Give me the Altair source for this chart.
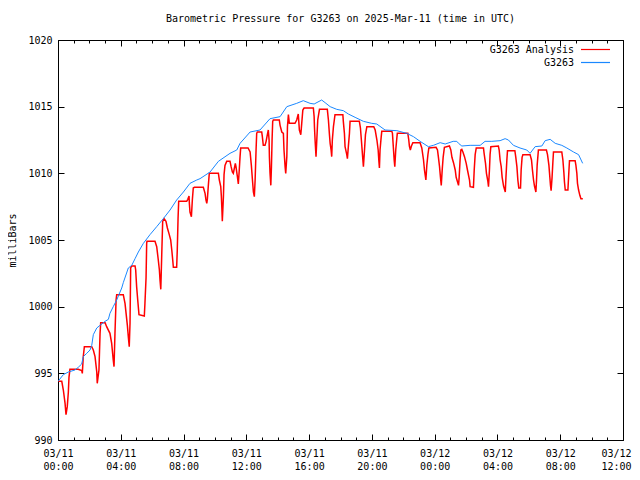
import altair as alt
import pandas as pd

# ---- data (hours after 2025-03-11 00:00 UTC, millibars) ----
red_hours = [0.02, 0.24, 0.34, 0.45, 0.51, 0.59, 0.66, 0.70, 0.76, 1.29, 1.51, 1.55, 1.61, 1.68, 2.15, 2.25, 2.36, 2.47, 2.50, 2.61,
             2.68, 2.72, 3.00, 3.10, 3.31, 3.42, 3.52, 3.57, 3.63, 3.70, 3.74, 4.16, 4.27, 4.42, 4.48, 4.54, 4.59, 4.63, 4.70, 4.91,
             4.95, 5.01, 5.08, 5.16, 5.50, 5.54, 5.61, 5.65, 5.67, 6.18, 6.29, 6.39, 6.46, 6.50, 6.55, 6.61, 6.67, 6.76, 6.88, 6.97,
             7.09, 7.18, 7.25, 7.31, 7.35, 7.56, 7.60, 7.65, 7.69, 8.20, 8.27, 8.35, 8.37, 8.41, 8.50, 8.56, 8.62, 8.69, 9.26, 9.37,
             9.43, 9.48, 9.52, 9.58, 9.64, 10.22, 10.28, 10.37, 10.41, 10.45, 10.47, 10.54, 10.58, 10.64, 10.75, 10.96, 11.03, 11.11, 11.17, 11.24,
             11.30, 11.34, 11.43, 11.49, 11.55, 11.60, 11.64, 12.11, 12.24, 12.32, 12.39, 12.45, 12.51, 12.56, 12.62, 12.66, 12.70, 12.98, 13.02, 13.08,
             13.19, 13.26, 13.34, 13.40, 13.45, 13.47, 13.51, 13.56, 13.60, 13.64, 13.68, 13.72, 14.10, 14.15, 14.26, 14.36, 14.40, 14.47, 14.51, 14.58,
             14.62, 14.68, 14.74, 15.10, 15.21, 15.31, 15.38, 15.47, 15.53, 15.60, 15.68, 16.27, 16.32, 16.34, 16.38, 16.44, 16.49, 16.55, 16.66, 17.16,
             17.23, 17.29, 17.34, 17.40, 17.44, 17.48, 17.55, 17.65, 18.15, 18.18, 18.25, 18.29, 18.40, 18.44, 18.50, 18.57, 18.61, 19.20, 19.27, 19.33,
             19.40, 19.46, 19.53, 19.59, 19.68, 20.12, 20.21, 20.32, 20.40, 20.44, 20.48, 20.52, 20.59, 20.63, 21.27, 21.31, 21.37, 21.42, 21.46, 21.52,
             21.59, 21.62, 22.29, 22.35, 22.39, 22.45, 22.52, 22.61, 23.07, 23.18, 23.29, 23.35, 23.44, 23.50, 23.57, 23.63, 24.09, 24.18, 24.24, 24.31,
             24.37, 24.42, 24.48, 24.54, 24.62, 24.94, 25.03, 25.10, 25.20, 25.31, 25.37, 25.42, 25.52, 25.56, 25.62, 25.67, 25.73, 25.80, 25.90, 26.01,
             26.09, 26.22, 26.26, 26.47, 26.52, 26.58, 26.65, 27.11, 27.15, 27.24, 27.30, 27.39, 27.43, 27.49, 27.53, 27.58, 28.06, 28.11, 28.17, 28.24,
             28.30, 28.39, 28.50, 28.54, 28.60, 28.64, 29.11, 29.17, 29.24, 29.30, 29.36, 29.47, 29.51, 29.57, 29.62, 30.08, 30.17, 30.23, 30.30, 30.36,
             30.45, 30.49, 30.53, 30.61, 31.12, 31.19, 31.28, 31.34, 31.38, 31.42, 31.48, 31.53, 31.57, 32.10, 32.17, 32.23, 32.27, 32.32, 32.49, 32.55,
             32.59, 32.95, 33.00, 33.06, 33.10, 33.17, 33.25, 33.32, 33.44]
red_mb = [994.4, 994.4, 993.75, 992.75, 991.9, 992.5, 993.6, 994.7, 995.3, 995.3, 995.2, 995.0, 996.25, 997.0, 997.0, 996.75, 996.25, 995.1, 994.25, 995.25,
          998.0, 998.8, 998.8, 998.5, 998.0, 997.25, 996.0, 995.5, 998.0, 1000.5, 1000.9, 1000.9, 1000.25, 998.6, 997.75, 997.0, 998.8, 1002.9, 1003.05, 1003.05,
          1002.75, 1001.5, 1000.5, 999.4, 999.3, 1000.25, 1002.15, 1004.75, 1004.9, 1004.9, 1004.5, 1003.5, 1002.75, 1002.0, 1001.3, 1003.9, 1006.4, 1006.6, 1006.4, 1005.9,
          1005.4, 1005.0, 1004.25, 1003.5, 1002.95, 1002.95, 1004.25, 1006.65, 1007.9, 1007.9, 1008.05, 1008.3, 1007.75, 1007.1, 1006.75, 1008.0, 1008.9, 1008.95, 1008.95, 1008.5,
          1008.0, 1007.75, 1008.1, 1009.1, 1010.0, 1010.0, 1009.5, 1009.0, 1008.25, 1007.1, 1006.4, 1008.25, 1009.9, 1010.6, 1010.9, 1010.9, 1010.5, 1010.1, 1010.0, 1010.4,
          1010.75, 1010.5, 1009.75, 1009.2, 1010.25, 1011.25, 1011.9, 1011.9, 1011.6, 1010.6, 1009.5, 1008.6, 1008.25, 1009.5, 1011.75, 1013.0, 1013.1, 1013.1, 1012.75, 1012.1,
          1012.1, 1012.4, 1012.9, 1013.25, 1012.5, 1011.25, 1010.0, 1009.1, 1010.5, 1012.5, 1013.9, 1014.0, 1014.0, 1013.6, 1013.1, 1013.0, 1011.75, 1010.5, 1010.0, 1011.25,
          1013.5, 1014.4, 1013.75, 1013.75, 1014.0, 1014.45, 1013.25, 1012.9, 1013.75, 1014.75, 1014.9, 1014.9, 1014.25, 1013.5, 1012.5, 1011.25, 1012.5, 1014.0, 1014.8, 1014.8,
          1014.0, 1013.0, 1012.25, 1011.75, 1011.25, 1012.5, 1013.5, 1014.4, 1014.4, 1013.9, 1013.0, 1012.0, 1011.4, 1011.1, 1012.0, 1013.0, 1013.9, 1013.9, 1013.4, 1012.5,
          1011.4, 1010.5, 1011.75, 1012.9, 1013.5, 1013.5, 1013.25, 1012.5, 1011.75, 1011.0, 1010.4, 1011.75, 1012.7, 1013.15, 1013.15, 1013.0, 1011.9, 1011.0, 1010.5, 1011.75,
          1012.65, 1013.0, 1013.0, 1012.5, 1012.05, 1011.75, 1012.05, 1012.3, 1012.3, 1011.9, 1011.0, 1010.25, 1009.5, 1010.6, 1011.4, 1011.9, 1011.95, 1011.75, 1011.2, 1010.5,
          1009.7, 1009.1, 1010.25, 1011.2, 1011.95, 1012.05, 1011.75, 1011.2, 1010.8, 1010.25, 1009.7, 1009.5, 1009.1, 1009.7, 1011.0, 1011.75, 1011.8, 1011.6, 1011.25, 1010.75,
          1010.25, 1009.5, 1009.0, 1008.95, 1010.25, 1011.4, 1011.9, 1011.9, 1011.5, 1010.75, 1010.0, 1009.4, 1009.0, 1010.25, 1011.4, 1012.0, 1012.05, 1011.75, 1011.0, 1010.5,
          1009.7, 1009.05, 1008.6, 1009.65, 1011.0, 1011.7, 1011.7, 1011.2, 1010.5, 1009.5, 1008.9, 1008.9, 1010.25, 1011.2, 1011.4, 1011.4, 1011.0, 1010.25, 1009.5, 1009.05,
          1008.6, 1009.5, 1010.6, 1011.75, 1011.75, 1011.4, 1010.6, 1009.7, 1009.1, 1008.7, 1009.7, 1010.8, 1011.6, 1011.6, 1011.0, 1010.1, 1009.35, 1008.75, 1008.75, 1010.1,
          1010.95, 1010.95, 1010.6, 1010.0, 1009.25, 1008.75, 1008.35, 1008.1, 1008.1]

blue_hours = [0.00, 0.34, 0.66, 1.08, 1.29, 1.51, 1.61, 1.83, 2.04, 2.15, 2.25, 2.47, 2.68, 3.00, 3.21, 3.31, 3.52, 3.74, 4.06, 4.16,
              4.48, 4.70, 4.91, 5.12, 5.44, 5.86, 6.29, 6.71, 7.14, 7.56, 7.99, 8.41, 8.84, 9.05, 9.69, 10.22, 10.96, 11.39, 11.60, 12.24,
              12.87, 13.51, 14.15, 14.58, 15.21, 15.63, 16.06, 16.32, 16.80, 17.02, 17.34, 17.76, 18.18, 18.50, 18.93, 19.46, 19.99, 20.31, 20.84, 21.59,
              22.22, 22.65, 23.07, 23.60, 23.92, 24.35, 24.67, 25.18, 25.41, 25.52, 25.73, 26.26, 26.90, 27.21, 27.64, 28.17, 28.49, 28.70, 29.02, 29.44,
              29.87, 30.08, 30.40, 30.83, 31.04, 31.36, 31.68, 32.10, 32.42, 32.85, 33.17, 33.43]
blue_mb = [994.4, 994.9, 995.1, 995.25, 995.45, 995.7, 996.25, 996.5, 996.75, 997.1, 997.9, 998.4, 998.6, 998.9, 999.05, 999.5, 1000.0, 1000.5, 1001.4, 1001.8,
           1002.9, 1003.1, 1003.6, 1004.1, 1004.75, 1005.4, 1006.0, 1006.6, 1007.25, 1008.0, 1008.6, 1009.25, 1009.5, 1009.6, 1010.1, 1010.9, 1011.5, 1011.75, 1012.25, 1013.1,
           1013.25, 1014.1, 1014.25, 1015.0, 1015.25, 1015.45, 1015.25, 1015.2, 1015.5, 1015.3, 1015.0, 1014.8, 1014.7, 1014.45, 1014.2, 1013.9, 1013.75, 1013.7, 1013.25, 1013.2,
           1013.0, 1012.75, 1012.4, 1012.0, 1012.1, 1012.3, 1012.2, 1012.4, 1012.4, 1012.25, 1012.05, 1012.1, 1012.1, 1012.4, 1012.4, 1012.45, 1012.6, 1012.5, 1012.1, 1011.9,
           1011.75, 1011.5, 1012.0, 1012.05, 1012.45, 1012.55, 1012.25, 1012.1, 1011.9, 1011.6, 1011.4, 1010.75]

series_names = ["G3263 Analysis", "G3263"]
series_colors = ["#ff0000", "#1a88ff"]
major_hours = list(range(0, 37, 4))
minor_hours = list(range(0, 37))
y_ticks = list(range(990, 1021, 5))

W, H = 565, 400
FONT = "DejaVu Sans Mono"

red = pd.DataFrame({"h": red_hours, "mb": red_mb, "series": series_names[0]})
blue = pd.DataFrame({"h": blue_hours, "mb": blue_mb, "series": series_names[1]})

xs = alt.Scale(domain=[0, 36], nice=False, zero=False)
ys = alt.Scale(domain=[990, 1020], nice=False, zero=False)

color = alt.Color("series:N", scale=alt.Scale(domain=series_names, range=series_colors), legend=None)


def x_ax(**kw):
    return alt.Axis(title=None, grid=False, domain=False, **kw)


def y_ax(**kw):
    return alt.Axis(grid=False, domain=False, **kw)


last_hour = major_hours[-1]
label_x = x_ax(values=major_hours, ticks=False, tickSize=0, labelPadding=8,
               labelExpr="[datum.value < 24 ? '03/11' : '03/12', (datum.value % 24 < 10 ? '0' : '') + (datum.value % 24) + ':00']",
               labelLineHeight=13, labelBaseline="top", labelFlush=False, labelOverlap=False,
               labelAlign={"condition": {"test": f"datum.value == {last_hour}", "value": "right"}, "value": "center"},
               labelOffset={"condition": {"test": f"datum.value == {last_hour}", "value": 8}, "value": 0})
label_y = y_ax(values=y_ticks, ticks=False, tickSize=0, labelPadding=6, format="d",
               title="milliBars", titlePadding=10, titleFont=FONT, titleFontSize=10,
               titleFontWeight="normal", titleColor="black")

red_layer = alt.Chart(red).mark_line(strokeWidth=1.5, clip=True).encode(
    x=alt.X("h:Q", scale=xs, axis=label_x),
    y=alt.Y("mb:Q", scale=ys, axis=label_y),
    color=color,
)
blue_layer = alt.Chart(blue).mark_line(strokeWidth=1, clip=True).encode(
    x=alt.X("h:Q", scale=xs, axis=x_ax(orient="top", offset=-H, values=major_hours, tickSize=6, labels=False, tickColor="black")),
    y=alt.Y("mb:Q", scale=ys, axis=y_ax(orient="right", offset=-W, values=y_ticks, tickSize=6, labels=False, title=None, tickColor="black")),
    color=color,
)
tick_a = alt.Chart(blue).mark_line(opacity=0).encode(
    x=alt.X("h:Q", scale=xs, axis=x_ax(orient="bottom", offset=-H, values=major_hours, tickSize=6, labels=False, tickColor="black")),
    y=alt.Y("mb:Q", scale=ys, axis=y_ax(orient="left", offset=-W, values=y_ticks, tickSize=6, labels=False, title=None, tickColor="black")),
)
tick_b = alt.Chart(blue).mark_line(opacity=0).encode(
    x=alt.X("h:Q", scale=xs, axis=x_ax(orient="top", offset=-H, values=minor_hours, tickSize=3, labels=False, tickColor="black")),
    y=alt.Y("mb:Q", scale=ys, axis=None),
)
tick_c = alt.Chart(blue).mark_line(opacity=0).encode(
    x=alt.X("h:Q", scale=xs, axis=x_ax(orient="bottom", offset=-H, values=minor_hours, tickSize=3, labels=False, tickColor="black")),
    y=alt.Y("mb:Q", scale=ys, axis=None),
)

# ---- gnuplot-style key (text left of line sample) ----
key_layers = []
for i, (name, col) in enumerate(zip(series_names, series_colors)):
    row_y = 9.5 + 13 * i
    kd = pd.DataFrame({"label": [name]})
    key_layers.append(
        alt.Chart(kd).mark_text(align="right", baseline="middle", font=FONT, fontSize=10, color="black").encode(
            text="label:N", x=alt.value(516), y=alt.value(row_y)
        )
    )
    key_layers.append(
        alt.Chart(kd).mark_rule(color=col, strokeWidth=1.2).encode(
            x=alt.value(523), x2=alt.value(552), y=alt.value(row_y)
        )
    )

chart = alt.layer(red_layer, blue_layer, tick_a, tick_b, tick_c, *key_layers).resolve_axis(
    x="independent", y="independent"
).properties(
    width=W, height=H,
    title=alt.TitleParams("Barometric Pressure for G3263 on 2025-Mar-11 (time in UTC)",
                          font=FONT, fontSize=10, fontWeight="normal", color="black",
                          anchor="middle", offset=11),
    padding={"left": 50, "top": 32, "right": 9, "bottom": 40},
    autosize="none",
    background="white",
).configure_view(stroke="black", strokeWidth=1).configure_axis(
    labelFont=FONT, labelFontSize=10, labelColor="black", tickWidth=1,
)

chart.save("out.html", embed_options={"renderer": "svg", "actions": False})
